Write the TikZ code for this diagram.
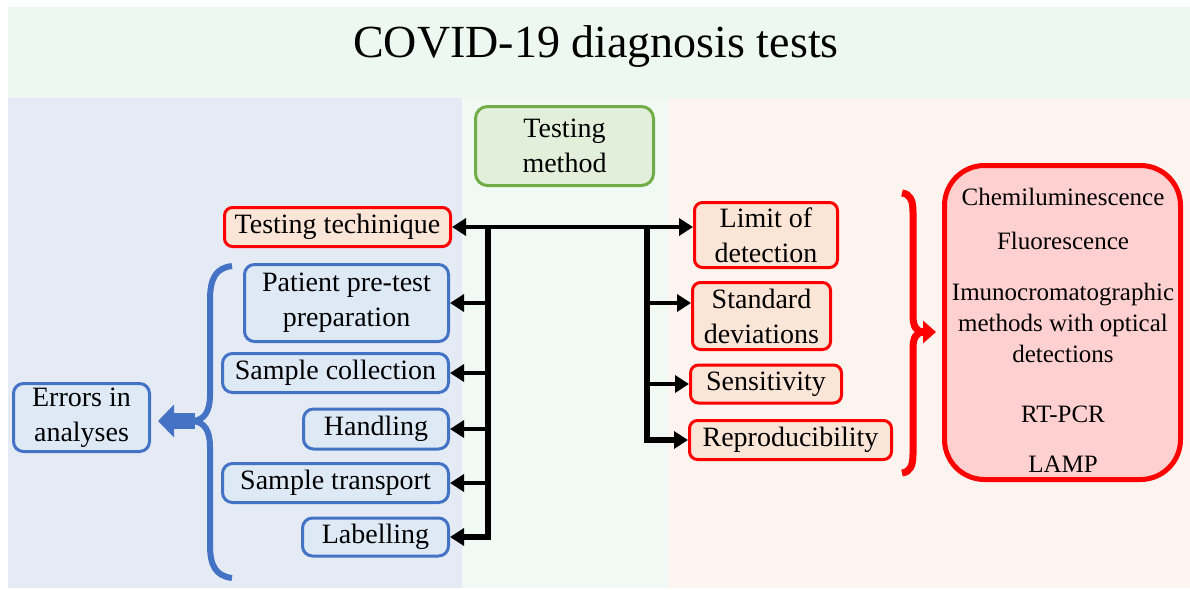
\documentclass[tikz,border=0pt]{standalone}
\usepackage{fontspec}
\setmainfont{Liberation Serif}
\usetikzlibrary{arrows.meta,calc}
\definecolor{titlebg}{HTML}{EEF8F2}
\definecolor{leftbg}{HTML}{E5EBF5}
\definecolor{midbg}{HTML}{F0F9F3}
\definecolor{rightbg}{HTML}{FDF4EF}
\definecolor{bluebd}{HTML}{4472C4}
\definecolor{bluefill}{HTML}{DEE9F6}
\definecolor{redbd}{HTML}{FF0000}
\definecolor{redfill}{HTML}{FBE5D6}
\definecolor{greenbd}{HTML}{70AD47}
\definecolor{greenfill}{HTML}{E2EFDA}
\definecolor{bigfill}{HTML}{FFD0D0}
\begin{document}
\begin{tikzpicture}[x=1pt,y=-1pt,
  boxbase/.style={draw, line width=3pt, align=center, inner sep=0pt,
    font=\fontsize{28}{35}\selectfont},
  bluebox/.style={boxbase, draw=bluebd, fill=bluefill, rounded corners=10pt},
  redbox/.style={boxbase, draw=redbd, fill=redfill, rounded corners=8pt},
  greenbox/.style={boxbase, draw=greenbd, fill=greenfill, rounded corners=12pt},
  spine/.style={line width=6pt, line join=miter},
  branch/.style={line width=4.5pt, -{Triangle[length=14pt,width=17pt]}},
  dbranch/.style={line width=4.5pt, {Triangle[length=14pt,width=17pt]}-{Triangle[length=14pt,width=17pt]}},
]
\useasboundingbox (0,0) rectangle (1190,589);
\fill[white] (0,0) rectangle (1190,589);
\fill[titlebg] (8,7) rectangle (1190,98);
\fill[leftbg] (8,98) rectangle (462,588);
\fill[midbg] (462,98) rectangle (669,588);
\fill[rightbg] (669,98) rectangle (1190,588);

\node[anchor=base, font=\fontsize{46}{50}\selectfont] (title) at (596,57) {COVID-19 diagnosis tests};

% middle
\node[greenbox, minimum width=178pt, minimum height=79pt] (tmethod) at (564.5,146) {Testing\\method};
\node[redbox, minimum width=226pt, minimum height=39pt] (ttech) at (337.5,227) {Testing techinique};

% left boxes
\node[bluebox, minimum width=204pt, minimum height=77pt] (pat) at (346.5,303) {Patient pre-test\\preparation};
\node[bluebox, minimum width=226pt, minimum height=39pt] (coll) at (335.5,373) {Sample collection};
\node[bluebox, minimum width=145pt, minimum height=40pt] (hand) at (376,429) {Handling};
\node[bluebox, minimum width=226pt, minimum height=39pt] (trans) at (335.5,483) {Sample transport};
\node[bluebox, minimum width=146pt, minimum height=38pt] (lab) at (375.5,537) {Labelling};
\node[bluebox, minimum width=136pt, minimum height=68pt] (err) at (81.5,417.5) {Errors in\\analyses};

% right boxes
\node[redbox, minimum width=143pt, minimum height=65pt] (lim) at (766,235) {Limit of\\detection};
\node[redbox, minimum width=138pt, minimum height=67pt] (std) at (761.5,316) {Standard\\deviations};
\node[redbox, minimum width=151pt, minimum height=38pt] (sens) at (766,384) {Sensitivity};
\node[redbox, minimum width=202pt, minimum height=39pt] (repr) at (790.5,440) {Reproducibility};

% big box
\node[draw=redbd, fill=bigfill, line width=5pt, rounded corners=40pt,
      minimum width=236pt, minimum height=314pt, inner sep=0pt] (mbox) at (1062.5,322.5) {};
\node[anchor=north, align=center, inner sep=0pt, font=\fontsize{25}{31}\selectfont] (mtext) at (1063,188)
  {Chemiluminescence\\[13pt]Fluorescence\\[20pt]Imunocromatographic\\methods with optical\\detections\\[29pt]RT-PCR\\[19pt]LAMP};

% connectors
\coordinate (sL) at (488,227);
\coordinate (sR) at (647,227);
\draw[dbranch] (ttech.east) -- (ttech.east -| lim.west);
\draw[spine, line width=6pt, -{Triangle[length=14pt,width=17pt]}] ($(sL)+(0,-2)$) -- (sL |- lab.east) -- (lab.east);
\draw[branch] (sL |- pat.east) -- (pat.east);
\draw[branch] (sL |- coll.east) -- (coll.east);
\draw[branch] (sL |- hand.east) -- (hand.east);
\draw[branch] (sL |- trans.east) -- (trans.east);
\draw[spine, line width=6pt, -{Triangle[length=14pt,width=17pt]}] ($(sR)+(0,-2)$) -- (sR |- repr.west) -- (repr.west);
\draw[branch] (sR |- pat.east) -- (sR |- pat.east -| std.west);
\draw[branch] (sR |- sens.west) -- (sens.west);

% left brace and block arrow
\draw[bluebd, line width=6pt]
  (232,266) .. controls (216,268) and (210,278) .. (210,300) -- (210,395)
  .. controls (210,412) and (204,420) .. (193,421)
  .. controls (204,422) and (210,430) .. (210,447) -- (210,545)
  .. controls (210,566) and (216,576) .. (232,578);
\coordinate (lbm) at (195,421);
\draw[bluebd, line width=16pt, -{Triangle[length=16pt,width=32pt]}, shorten >=7pt] (lbm) -- (lbm -| err.east);

% right brace and arrow
\draw[redbd, line width=7pt]
  (902,193) .. controls (910,194) and (913,200) .. (913,212) -- (913,316)
  .. controls (913,326) and (916,332) .. (924,332)
  .. controls (916,332) and (913,338) .. (913,348) -- (913,454)
  .. controls (913,466) and (910,472) .. (902,473);
\coordinate (rbm) at (916,332);
\draw[redbd, line width=8pt, -{Triangle[length=13pt,width=22pt]}, shorten >=6pt] (rbm) -- (rbm -| mbox.west);
\end{tikzpicture}
\end{document}
